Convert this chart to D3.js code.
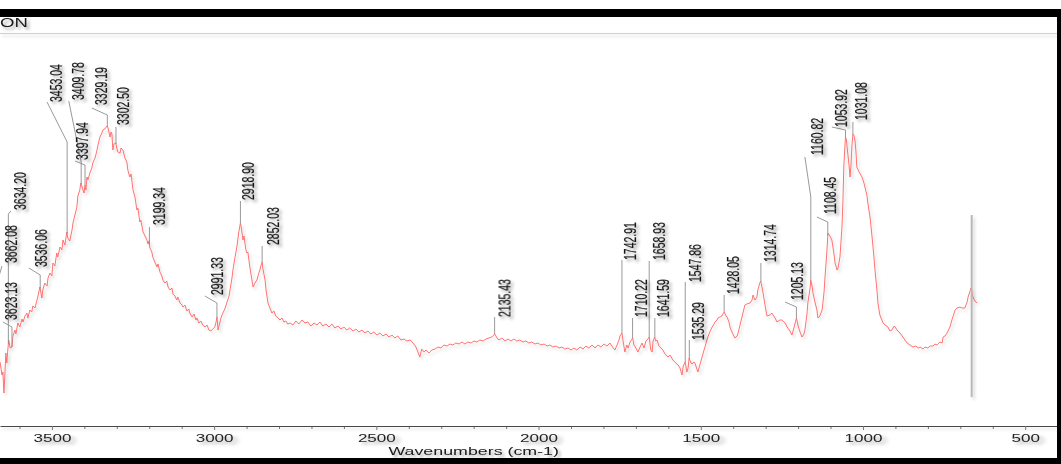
<!DOCTYPE html>
<html>
<head>
<meta charset="utf-8">
<script src="https://cdn.jsdelivr.net/npm/d3@7"></script>
<style>
  html, body { margin: 0; padding: 0; background: #fff; overflow: hidden; }
  svg { display: block; }
  text { font-family: "Liberation Sans", Arial, Helvetica, sans-serif; }
</style>
</head>
<body>
<svg id="chart" width="1061" height="464"></svg>
<script>
// FTIR spectrum: [wavenumber (cm-1), absorbance (arb. units)]
const ohBand = [
  [3660,14.5],[3657,13],[3654,11.25],[3651,12],[3648,6.75],[3645,11.25],[3642,16.75],[3639,14.25],
  [3636,17.5],[3633,20],[3629,18],[3623,18.25],[3620,21],[3614,22.5],[3611,21.5],[3605,24.25],
  [3599,23.25],[3592,25.25],[3589,24.5],[3583,26],[3577,26.75],[3574,25.5],[3568,27.5],[3562,27],
  [3559,28.5],[3552,28],[3546,30],[3543,31],[3537,33.25],[3531,30.5],[3528,32.5],[3522,34.25],
  [3515,33.5],[3512,35.5],[3506,36.75],[3500,36],[3497,39.25],[3491,38.5],[3485,41.75],[3482,40.75],
  [3475,43.25],[3469,42.5],[3466,45],[3460,43.75],[3454,47],[3451,45.5],[3445,44.75],[3438,47.5],
  [3435,49.25],[3429,51.25],[3423,53.25],[3420,56],[3414,57.5],[3411,59.25],[3404,57.5],[3401,56.75],
  [3398,58.75],[3395,57.5],[3392,60.75],[3389,60],[3383,61.75],[3377,63],[3374,64.25],[3367,65.5],
  [3361,67.5],[3358,68.75],[3352,70.75],[3346,71.75],[3343,72.5],[3337,72.75],[3330,73.5],[3327,73],
  [3321,70.75],[3318,72],[3315,71.5],[3312,67.5],[3309,69],[3303,69.25],[3300,68],[3297,67],
  [3290,66.75],[3287,68],[3281,67.5],[3275,65.5],[3269,64.5],[3266,62.5],[3260,60.75],[3256,61.5],
  [3250,57.5],[3244,55.75],[3238,52.5],[3235,53],[3229,49.5],[3226,50],[3219,47],[3213,46],
  [3207,45],[3204,44],[3201,44.75],[3198,43],[3192,42],[3189,40.75]
];
const chBand = [
  [3183,39.5],[3176,38.25],[3173,39],[3167,37],[3161,36],[3158,35],[3152,34.25],[3146,34.75],
  [3142,33.25],[3136,32.5],[3130,33],[3127,31.5],[3121,31],[3115,30],[3112,30.75],[3105,29.25],
  [3099,28.75],[3096,28.25],[3090,28.75],[3084,27.25],[3078,27.75],[3075,26.75],[3068,25.75],[3062,26.5],
  [3056,25],[3053,25.5],[3047,24.25],[3041,24.75],[3035,23.75],[3028,23.25],[3022,23.75],[3016,22.5],
  [3010,22.25],[3004,22.75],[2998,23.25],[2994,24.5],[2991,25.75],[2988,22.5],[2985,23.5],[2979,25.5],
  [2973,26.75],[2967,27.75],[2961,29.25],[2954,31],[2951,32.5],[2945,35.5],[2942,37.5],[2936,40.5],
  [2930,43.25],[2924,47],[2919,49.25],[2917,48.5],[2911,45],[2908,46],[2902,42.5],[2899,41.75],
  [2896,42],[2890,38.25],[2887,36.75],[2880,33.25],[2874,34.25],[2868,35],[2865,36],[2859,37.5],
  [2856,38.5],[2852,39.5],[2850,38],[2843,35],[2840,32.5],[2834,29.25],[2828,28],[2822,26.75],
  [2816,27.25],[2810,26],[2803,25.5],[2797,25],[2791,25.5],[2785,24.5],[2779,24.75],[2773,24],
  [2766,24.25]
];
const baseline = [
  [2757,23.75],[2748,24.75],[2739,24],[2729,25],[2720,24.25],[2711,24.5],[2702,23.5],[2692,24.25],
  [2683,23.75],[2674,24.5],[2665,23.5],[2655,24],[2646,23.25],[2637,24],[2628,23],[2618,23.5],
  [2609,22.75],[2600,23.25],[2591,22.5],[2582,23],[2572,22.25],[2563,22.75],[2554,22],[2544,22.5],
  [2535,21.75],[2526,22.25],[2517,21.5],[2508,22],[2498,21.25],[2489,21.75],[2480,21],[2470,21.5],
  [2461,20.75],[2452,21.25],[2443,20.5],[2434,21],[2424,20],[2415,20.25],[2406,19.75],[2396,20],
  [2387,19.25],[2378,18.25],[2372,17],[2366,15.75],[2360,17.75],[2353,17],[2347,17.5],[2338,16.75],
  [2329,17.5],[2319,17.75],[2310,18.25],[2301,18],[2292,18.75],[2282,18.5],[2273,19],[2264,18.75],
  [2255,19.25],[2245,19],[2236,19.5],[2227,19],[2218,19.5],[2208,19.25],[2199,19.75],[2190,19.5],
  [2181,20],[2171,19.75],[2162,20.25],[2153,20.5],[2144,20.75],[2135,21.5],[2128,20.5],[2122,20],
  [2113,20.5],[2104,19.75],[2094,20.25],[2085,19.75],[2076,20.25],[2067,19.75],[2058,20],[2048,19.5],
  [2039,19.75],[2030,19.25],[2021,19.5],[2011,19],[2002,19.25],[1993,18.75],[1983,19],[1974,18.5],
  [1965,18.75],[1956,18.25],[1946,18.5],[1937,18],[1928,18.25],[1919,17.75],[1909,18],[1900,17.5],
  [1891,18],[1882,17.5],[1872,18.25],[1863,17.75],[1854,18.5],[1845,18],[1835,18.75],[1826,18],
  [1817,18.75],[1808,18.25],[1798,19],[1789,18.5],[1780,19.25]
];
const amideBand = [
  [1774,18.5],[1765,17.5],[1758,18.75],[1752,20],[1749,21],[1743,21.75],[1740,20],[1734,17],
  [1728,18.75],[1724,18],[1718,19.5],[1710,20.5],[1706,18.75],[1700,18],[1694,17],[1687,18.25],
  [1681,19.25],[1675,18],[1669,19.75],[1663,20.25],[1659,20.75],[1654,17.5],[1650,17],[1647,19.75],
  [1642,20.75],[1639,19.75],[1635,20],[1629,18.5],[1623,18],[1617,17.5],[1610,16.5],[1601,15.75],
  [1595,16.25],[1586,15],[1580,14.5],[1570,13.75],[1564,13],[1558,11.25],[1554,13.5],[1548,14.5],
  [1543,12],[1539,13],[1536,15.5],[1530,14.25],[1527,14],[1521,14.5],[1518,14.25],[1512,12.75],
  [1509,12],[1502,14],[1496,15.75],[1490,17.5],[1487,18.25],[1481,20],[1478,20.75],[1472,22],
  [1465,23.25],[1459,24],[1456,24.5],[1450,25],[1447,25.5],[1441,25.75],[1435,26],[1432,26.5],
  [1428,27],[1422,26],[1419,25.75],[1413,24.5],[1410,23.25],[1404,22],[1398,21],[1395,20.5],
  [1388,21],[1385,21.75],[1379,23.75],[1373,25.75],[1367,27.75],[1364,28.75],[1358,29],[1348,29.25],
  [1342,30],[1339,31.25],[1333,30],[1327,30.75],[1324,32.5],[1318,34.25],[1315,34.75],[1308,31.75],
  [1302,28.75],[1296,26],[1287,26.25]
];
const fingerprint = [
  [1281,26.75],[1271,25.5],[1265,24.5],[1256,25],[1250,25],[1240,24.25],[1234,23.25],[1225,22.25],
  [1219,21.25],[1213,23],[1205,25.5],[1200,23.5],[1194,22],[1188,20.75],[1182,21.5],[1179,22.5],
  [1173,26.25],[1170,29.25],[1163,33],[1161,35],[1157,33.5],[1154,31.75],[1148,29.5],[1142,27.5],
  [1139,25.5],[1133,26],[1126,27.5],[1120,32],[1117,35.75],[1111,42.5],[1108,46.75],[1102,46],
  [1096,45],[1089,41.25],[1086,39.25],[1080,37.5],[1077,38],[1071,40.75],[1065,48],[1062,54.25],
  [1059,63.75],[1054,70.75],[1051,70],[1049,68.25],[1043,63.75],[1040,60.75],[1037,63.75],[1034,68.75],
  [1031,71.5],[1028,71.25],[1025,70],[1022,67.5],[1019,63.25],[1012,62],[1003,60.75],[997,59.25],
  [994,58.25],[988,56.25],[985,54.25],[978,50.5],[972,45.75],[966,40.5],[963,37.5],[957,32.5],
  [954,29.25],[948,26.25],[938,24.25],[932,23.75],[923,23.25],[917,22.25],[911,22.5],[904,23.5],
  [901,23.25],[895,22.5],[886,21.75],[877,20.75],[871,20],[864,19.25],[855,18.75],[846,18.25],
  [837,18.5],[830,18],[824,18.25],[815,17.75],[809,18.25],[800,18],[793,18.5],[784,18.5],
  [778,19],[772,18.75],[763,19.5],[756,19.25],[753,20.75],[747,21],[741,21.75],[732,23.25],
  [726,25],[719,26.75],[716,27.5],[710,28],[701,28.25],[695,28],[686,28],[679,29.5],
  [676,30.75],[670,32.25],[667,33],[661,30.75],[655,29.75],[649,29.25]
];

// Peak-pick labels (cm-1)
const peakLabels = [
  3662.08, 3634.20, 3623.13, 3536.06, 3453.04, 3409.78, 3397.94, 3329.19, 3302.50,
  3199.34, 2991.33, 2918.90, 2852.03, 2135.43, 1742.91, 1710.22, 1658.93, 1641.59,
  1547.86, 1535.29, 1428.05, 1314.74, 1205.13, 1160.82, 1108.45, 1053.92, 1031.08
];

// Leader layout for each label, in data units: the stem rises from the peak to kinkA,
// then slants to (endWn, endA); the label's lower-left corner sits at (textWn, textA).
const labelLayout = [
  { kinkA: 36.25, endWn: 3654,    endA: 38.5,  textWn: 3642, textA: 39.25 },
  { kinkA: 51.5,  endWn: 3626.4,  endA: 52.25, textWn: 3614, textA: 52.5 },
  { kinkA: 23.25, endWn: 3651,    endA: 24.5,  textWn: 3642, textA: 25 },
  { kinkA: 36.25, endWn: 3571,    endA: 38,    textWn: 3552, textA: 38.25 },
  { kinkA: 69.5,  endWn: 3515,    endA: 79.5,  textWn: 3503, textA: 79.5 },
  { kinkA: 64.5,  endWn: 3448,    endA: 79.75, textWn: 3435, textA: 80 },
  { kinkA: 63.75, endWn: 3429,    endA: 64.75, textWn: 3423, textA: 65 },
  { kinkA: 76.25, endWn: 3377,    endA: 78,    textWn: 3367, textA: 78.75 },
  { kinkA: 73.25, endWn: null,    endA: null,  textWn: 3297, textA: 73.75 },
  { kinkA: 48.25, endWn: null,    endA: null,  textWn: 3186, textA: 48.75 },
  { kinkA: 29.25, endWn: 3028.4,  endA: 31,    textWn: 3007, textA: 31.25 },
  { kinkA: 54.75, endWn: null,    endA: null,  textWn: 2911, textA: 55 },
  { kinkA: 43.5,  endWn: null,    endA: null,  textWn: 2834, textA: 43.75 },
  { kinkA: 25.75, endWn: null,    endA: null,  textWn: 2122, textA: 25.75 },
  { kinkA: 40,    endWn: null,    endA: null,  textWn: 1734, textA: 40 },
  { kinkA: 25.5,  endWn: null,    endA: null,  textWn: 1700, textA: 25.75 },
  { kinkA: 39.75, endWn: null,    endA: null,  textWn: 1647, textA: 40 },
  { kinkA: 25.5,  endWn: null,    endA: null,  textWn: 1632, textA: 25.75 },
  { kinkA: 34.5,  endWn: null,    endA: null,  textWn: 1536, textA: 34.5 },
  { kinkA: 20,    endWn: null,    endA: null,  textWn: 1524, textA: 20 },
  { kinkA: 31.25, endWn: null,    endA: null,  textWn: 1419, textA: 31.5 },
  { kinkA: 39.25, endWn: null,    endA: null,  textWn: 1305, textA: 39.5 },
  { kinkA: 28.25, endWn: 1240.5,  endA: 29.5,  textWn: 1219, textA: 30 },
  { kinkA: 55.75, endWn: 1179,    endA: 65.75, textWn: 1160, textA: 66.25 },
  { kinkA: 49.5,  endWn: 1142,    endA: 50.75, textWn: 1120, textA: 51.5 },
  { kinkA: 72.5,  endWn: 1096,    endA: 73.25, textWn: 1086, textA: 73.25 },
  { kinkA: 74.5,  endWn: null,    endA: null,  textWn: 1022, textA: 75 }
];

// Cursor marker
const cursorWn = 665;
const cursorRange = [5.75, 51.25];

// Axis ticks
const majorTicks = [3500, 3000, 2500, 2000, 1500, 1000, 500];
const minorTicks = [3600, 3400, 3300, 3200, 3100, 2900, 2800, 2700, 2600, 2400, 2300, 2200, 2100,
                    1900, 1800, 1700, 1600, 1400, 1300, 1200, 1100, 900, 800, 700, 600];
const xTitle = "Wavenumbers (cm-1)";
const headerText = "ON";

// ---------------------------------------------------------------------------
const W = 1061, H = 464;
const svg = d3.select("#chart");
const STRETCH = 1.55;

const spectrum = [].concat(ohBand, chBand, baseline, amideBand, fingerprint);

const x = d3.scaleLinear().domain([3660, 402]).range([0, 1057]);
const y = d3.scaleLinear().domain([0, 100]).range([420, 20]);

// soft drop shadows; regions are generous so transformed text is never clipped
const defs = svg.append("defs");
function shadowFilter(id, dx, dy, sd, op) {
  const f = defs.append("filter").attr("id", id)
    .attr("filterUnits", "userSpaceOnUse")
    .attr("x", -3000).attr("y", -3000).attr("width", 6000).attr("height", 6000);
  f.append("feDropShadow").attr("dx", dx).attr("dy", dy)
    .attr("stdDeviation", sd).attr("flood-color", "#000").attr("flood-opacity", op);
}
shadowFilter("shadow", 2.5, 2.5, 1.6, 0.36);
shadowFilter("shadowLine", 2, 2.5, 1.8, 0.16);

// header strip
svg.append("rect").attr("x", 0).attr("y", 9).attr("width", W).attr("height", 8).attr("fill", "#000");
svg.append("g").attr("filter", "url(#shadow)")
  .append("text").attr("transform", `translate(0,26.5) scale(${STRETCH},1)`)
  .attr("font-size", 12).attr("fill", "#1a1a1a").text(headerText);
svg.append("line").attr("x1", 0).attr("x2", 1057).attr("y1", 33.5).attr("y2", 33.5)
  .attr("stroke", "#cfcfcf").attr("stroke-width", 1).attr("filter", "url(#shadowLine)");

// x axis
const axisY = 426;
const gMinor = svg.append("g").attr("transform", `translate(0,${axisY})`)
  .call(d3.axisBottom(x).tickValues(minorTicks).tickSize(3).tickSizeOuter(0).tickFormat(""));
const gMajor = svg.append("g").attr("transform", `translate(0,${axisY})`)
  .call(d3.axisBottom(x).tickValues(majorTicks).tickSize(4).tickSizeOuter(0).tickPadding(4)
    .tickFormat(d3.format("d")));
gMinor.select(".domain").remove();
gMajor.select(".domain").attr("stroke", "#4a4a4a").attr("filter", "url(#shadowLine)");
[gMinor, gMajor].forEach(g => g.selectAll(".tick line").attr("stroke", "#777"));
gMajor.selectAll(".tick text")
  .attr("font-size", 11).attr("fill", "#222").attr("font-family", "Liberation Sans, Arial, sans-serif")
  .attr("filter", "url(#shadow)")
  .attr("transform", `scale(${STRETCH},1)`);

svg.append("g").attr("filter", "url(#shadow)")
  .append("text")
  .attr("transform", `translate(${x(2200)},455) scale(${STRETCH},1)`)
  .attr("text-anchor", "middle").attr("font-size", 11.5).attr("fill", "#1a1a1a")
  .text(xTitle);

// spectrum trace
const line = d3.line().x(d => x(d[0])).y(d => y(d[1]));
svg.append("path").datum(spectrum)
  .attr("d", line).attr("fill", "none")
  .attr("stroke", "#ff6a6a").attr("stroke-width", 0.95).attr("stroke-linejoin", "round")
  .attr("filter", "url(#shadowLine)");

// absorbance at an arbitrary wavenumber along the trace
const asc = spectrum.slice().sort((a, b) => a[0] - b[0]);
const bis = d3.bisector(d => d[0]).left;
function valueAt(wn) {
  const i = bis(asc, wn);
  if (i <= 0) return asc[0][1];
  if (i >= asc.length) return asc[asc.length - 1][1];
  const a = asc[i - 1], b = asc[i];
  const t = (wn - a[0]) / (b[0] - a[0]);
  return a[1] + t * (b[1] - a[1]);
}

// cursor marker
svg.append("line")
  .attr("x1", x(cursorWn)).attr("x2", x(cursorWn))
  .attr("y1", y(cursorRange[1])).attr("y2", y(cursorRange[0]))
  .attr("stroke", "#b8b8b8").attr("stroke-width", 2).attr("filter", "url(#shadowLine)");

// peak leaders and labels
const peaks = peakLabels.map((wn, i) => Object.assign({ wn }, labelLayout[i]));
const gLead = svg.append("g").attr("fill", "none").attr("stroke", "#8d8d8d").attr("stroke-width", 0.9);
gLead.selectAll("path").data(peaks).join("path")
  .attr("d", d => {
    const p = d3.path();
    p.moveTo(x(d.wn), y(valueAt(d.wn)));
    p.lineTo(x(d.wn), y(d.kinkA));
    if (d.endWn !== null) p.lineTo(x(d.endWn), y(d.endA));
    return p.toString();
  });

const LABEL_H = 11.5; // rendered glyph height of a rotated label
svg.append("g").attr("filter", "url(#shadow)")
  .selectAll("text").data(peaks).join("text")
  .attr("transform", d => `translate(${x(d.textWn) + LABEL_H},${y(d.textA)}) scale(1.5,1) rotate(-90)`)
  .attr("font-size", 10.5).attr("fill", "#1a1a1a")
  .attr("stroke", "#1a1a1a").attr("stroke-width", 0.15)
  .text(d => d.wn.toFixed(2));

// frame edges
svg.append("rect").attr("x", 1057).attr("y", 9).attr("width", 4).attr("height", H - 9).attr("fill", "#000");
svg.append("rect").attr("x", 0).attr("y", 458).attr("width", W).attr("height", 6).attr("fill", "#000");
</script>
</body>
</html>
